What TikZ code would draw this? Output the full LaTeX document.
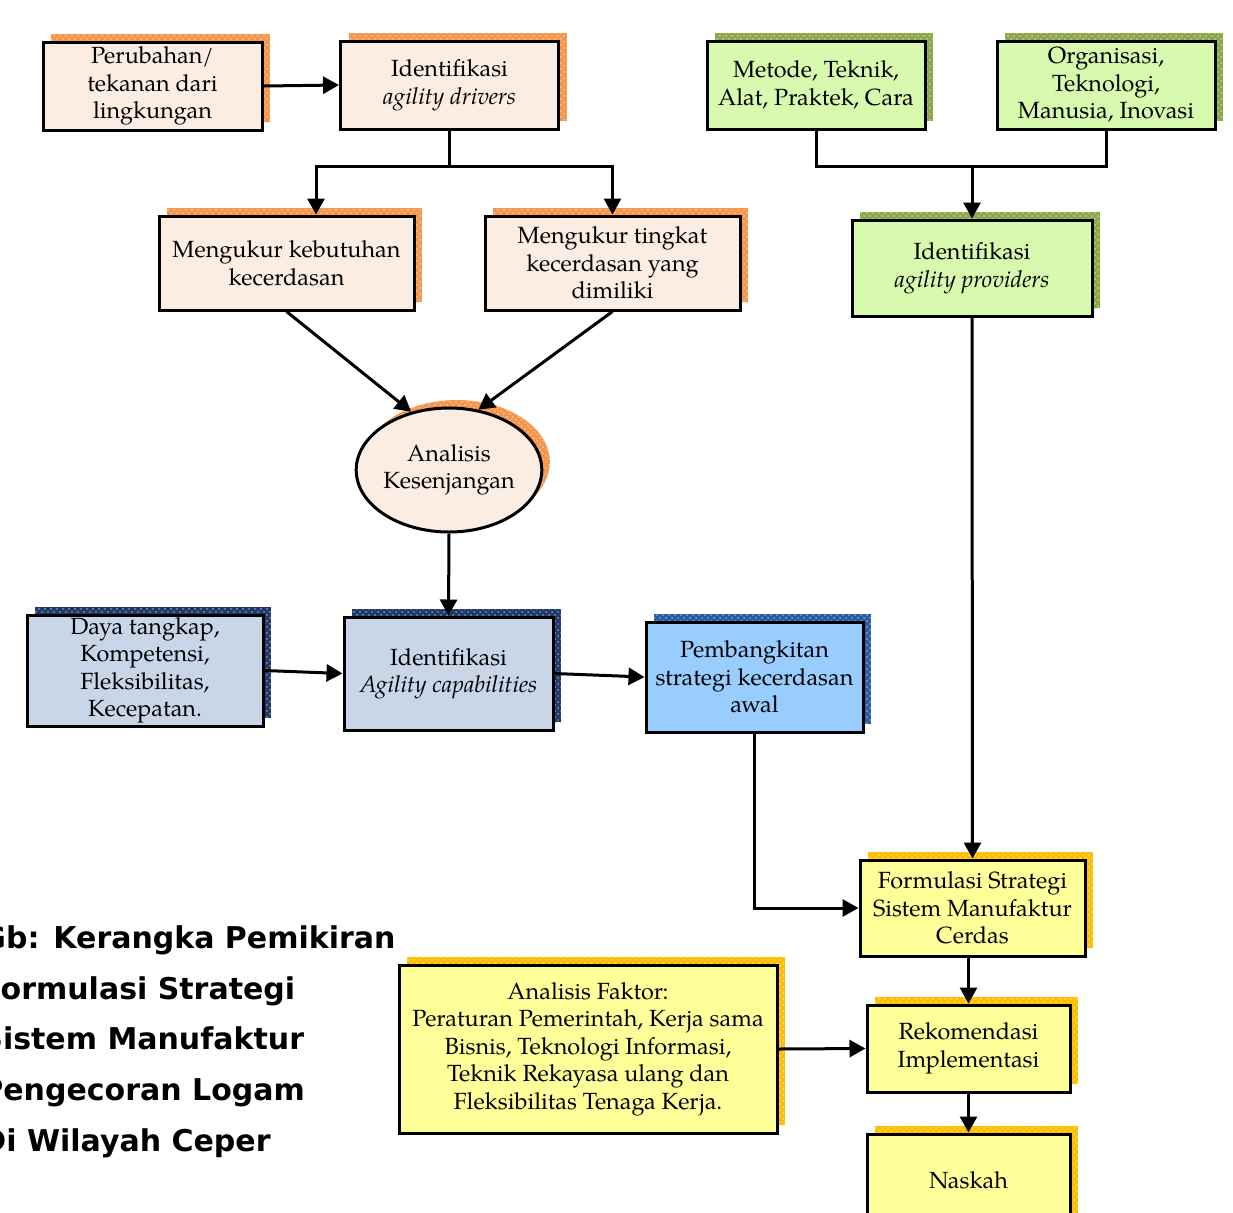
\documentclass[tikz,border=0pt]{standalone}
\usepackage{fontspec}
\setmainfont{TeX Gyre Pagella}
\newfontfamily\capfont{DejaVu Sans}
\usetikzlibrary{shapes.geometric,shadows,arrows.meta,patterns}

\definecolor{peach}{RGB}{252,237,227}
\definecolor{shorange}{RGB}{244,150,75}
\definecolor{lgreen}{RGB}{216,250,174}
\definecolor{shgreen}{RGB}{138,168,72}
\definecolor{lblue}{RGB}{200,214,232}
\definecolor{shnavy}{RGB}{31,58,104}
\definecolor{skyblue}{RGB}{153,204,255}
\definecolor{shblue}{RGB}{44,90,165}
\definecolor{lyellow}{RGB}{255,255,153}
\definecolor{shyellow}{RGB}{255,190,0}

\tikzset{
  x=0.5pt, y=-0.5pt,
  box/.style={draw=black, line width=1.5pt, align=center, inner sep=1pt,
    font=\fontsize{11.7}{13.75}\selectfont},
  sh/.style={
    general shadow={fill=#1, shadow xshift=4pt, shadow yshift=4pt},
    general shadow={pattern=crosshatch dots, pattern color=white!45!#1,
      shadow xshift=4pt, shadow yshift=4pt}},
  peachbox/.style={box, fill=peach, sh=shorange},
  greenbox/.style={box, fill=lgreen, sh=shgreen},
  greybluebox/.style={box, fill=lblue, sh=shnavy},
  bluebox/.style={box, fill=skyblue, sh=shblue},
  yellowbox/.style={box, fill=lyellow, sh=shyellow},
  ln/.style={line width=1.5pt},
  arr/.style={line width=1.5pt, -{Triangle[length=8pt,width=8.5pt]}},
  captext/.style={inner sep=0pt, anchor=base west,
    font=\capfont\bfseries\fontsize{15}{17}\selectfont},
}

\begin{document}
\begin{tikzpicture}
\useasboundingbox (0,0) rectangle (1233,1212);

% top row: agility drivers
\node[peachbox, minimum width=109.5pt, minimum height=44pt] (peru) at (152.5,86)
  {Perubahan/\\tekanan dari\\lingkungan};
\node[peachbox, minimum width=109pt, minimum height=44pt] (drv) at (449.5,85)
  {Identifikasi\\\textit{agility drivers}};

% top row: agility providers
\node[greenbox, minimum width=109pt, minimum height=44pt] (met) at (816,85)
  {Metode, Teknik,\\Alat, Praktek, Cara};
\node[greenbox, minimum width=109pt, minimum height=44pt] (org) at (1106,85)
  {Organisasi,\\Teknologi,\\Manusia, Inovasi};

% measurement boxes
\node[peachbox, minimum width=127.5pt, minimum height=47pt] (kebut) at (286.5,263)
  {Mengukur kebutuhan\\kecerdasan};
\node[peachbox, minimum width=127.5pt, minimum height=47pt] (tingk) at (612.5,263)
  {Mengukur tingkat\\kecerdasan yang\\dimiliki};
\node[greenbox, minimum width=120pt, minimum height=48pt] (prov) at (972,268)
  {Identifikasi\\\textit{agility providers}};

% gap analysis
\node[box, ellipse, fill=peach, sh=shorange, inner sep=0pt,
  minimum width=92pt, minimum height=62pt] (ana) at (449,470)
  {Analisis\\Kesenjangan};

% capabilities row
\node[greybluebox, minimum width=118pt, minimum height=55.5pt] (daya) at (145,670.5)
  {Daya tangkap,\\Kompetensi,\\Fleksibilitas,\\Kecepatan.};
\node[greybluebox, minimum width=104.5pt, minimum height=56.5pt] (cap) at (448.5,673.5)
  {Identifikasi\\\textit{Agility capabilities}};
\node[bluebox, minimum width=108.5pt, minimum height=55pt] (pemb) at (754.5,677)
  {Pembangkitan\\strategi kecerdasan\\awal};

% strategy formulation chain
\node[yellowbox, minimum width=112.5pt, minimum height=48pt] (form) at (972.5,908)
  {Formulasi Strategi\\Sistem Manufaktur\\Cerdas};
\node[yellowbox, minimum width=189pt, minimum height=84pt] (fakt) at (588,1049)
  {Analisis Faktor:\\Peraturan Pemerintah, Kerja sama\\Bisnis, Teknologi Informasi,\\Teknik Rekayasa ulang dan\\Fleksibilitas Tenaga Kerja.};
\node[yellowbox, minimum width=101.5pt, minimum height=43.5pt] (rek) at (968.5,1048.5)
  {Rekomendasi\\Implementasi};
\node[yellowbox, minimum width=101.5pt, minimum height=46pt] (nask) at (968.5,1180)
  {Naskah};

% caption
\node[captext] (cap1) at (-19,948) {Gb: Kerangka Pemikiran};
\node[captext] (cap2) at (-19,999) {Formulasi Strategi};
\node[captext] (cap3) at (-19,1049.5) {Sistem Manufaktur};
\node[captext] (cap4) at (-19,1100) {Pengecoran Logam};
\node[captext] (cap5) at (-19,1151) {Di Wilayah Ceper};

% connectors
\draw[arr] (peru.east) -- (drv.west);
\coordinate (j1) at (449.5,166);
\draw[ln] (drv.south) -- (j1);
\draw[arr] (j1) -| ([xshift=14.75pt]kebut.north);
\draw[arr] (j1) -| (tingk.north);

\coordinate (j2) at (972,166);
\draw[ln] (met.south) |- (j2);
\draw[ln] (org.south) |- (j2);
\draw[arr] (j2) -- (prov.north);

\draw[arr] (kebut.south) -- (ana.123);
\draw[arr] (tingk.south) -- (ana.64);
\draw[arr] (ana.south) -- (cap.north);

\draw[arr] (daya.east) -- (cap.west);
\draw[arr] (cap.east) -- (pemb.west);
\draw[arr] (pemb.south) |- (form.west);
\draw[arr] (prov.south) -- (form.north);
\draw[arr] (rek.north |- form.south) -- (rek.north);
\draw[arr] (fakt.east) -- (rek.west);
\draw[arr] (rek.south) -- (nask.north);
\end{tikzpicture}
\end{document}
